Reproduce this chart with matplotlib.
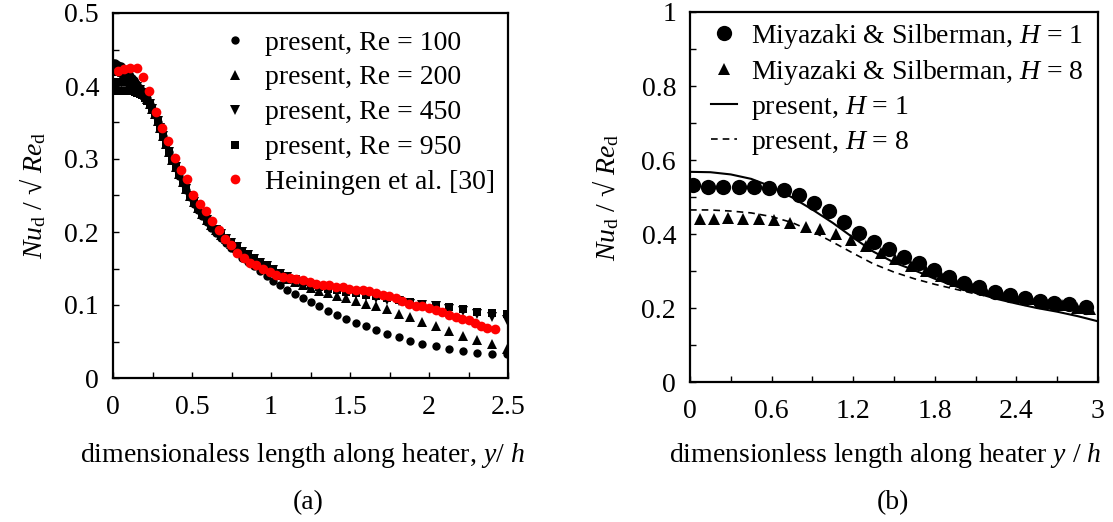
import numpy as np
import matplotlib
matplotlib.use("Agg")
import matplotlib.pyplot as plt
from matplotlib.ticker import MultipleLocator, FuncFormatter

plt.rcParams['font.family'] = ['Liberation Serif', 'DejaVu Serif']
plt.rcParams['mathtext.fontset'] = 'custom'
plt.rcParams['mathtext.rm'] = 'Liberation Serif'
plt.rcParams['mathtext.it'] = 'Liberation Serif:italic'
plt.rcParams['font.size'] = 20

# (a) present simulations, shared streamwise grid
x_present = [0.0, 0.01, 0.02, 0.03, 0.04, 0.05, 0.06, 0.07, 0.08, 0.09,
             0.10, 0.11, 0.12, 0.13, 0.14, 0.155, 0.17, 0.185, 0.20, 0.216,
             0.232, 0.248, 0.265, 0.282, 0.30, 0.318, 0.337, 0.356, 0.376, 0.397,
             0.418, 0.44, 0.463, 0.487, 0.512, 0.538, 0.565, 0.593, 0.622, 0.652,
             0.683, 0.715, 0.748, 0.782, 0.818, 0.855, 0.893, 0.932, 0.973, 1.015,
             1.059, 1.103, 1.152, 1.203, 1.253, 1.306, 1.363, 1.418, 1.477, 1.538,
             1.601, 1.667, 1.736, 1.808, 1.882, 1.957, 2.042, 2.126, 2.214, 2.305,
             2.40, 2.493]

nu_re100 = [0.432, 0.431, 0.430, 0.429, 0.428, 0.427, 0.425, 0.423, 0.421, 0.419,
            0.417, 0.414, 0.411, 0.408, 0.405, 0.401, 0.397, 0.393, 0.389, 0.383,
            0.376, 0.369, 0.360, 0.351, 0.341, 0.331, 0.320, 0.309, 0.298, 0.287,
            0.277, 0.267, 0.257, 0.248, 0.239, 0.230, 0.222, 0.214, 0.206, 0.199,
            0.192, 0.185, 0.178, 0.171, 0.165, 0.159, 0.153, 0.147, 0.140, 0.133,
            0.127, 0.121, 0.115, 0.109, 0.104, 0.098, 0.092, 0.0865, 0.0815, 0.076,
            0.0706, 0.0656, 0.060, 0.056, 0.0505, 0.0464, 0.0433, 0.0392, 0.0364, 0.0342,
            0.0332, 0.0332]

nu_re200 = [0.422, 0.422, 0.422, 0.421, 0.421, 0.420, 0.419, 0.418, 0.417, 0.415,
            0.413, 0.411, 0.408, 0.406, 0.403, 0.399, 0.395, 0.391, 0.387, 0.382,
            0.376, 0.369, 0.361, 0.352, 0.342, 0.332, 0.321, 0.310, 0.299, 0.289,
            0.279, 0.269, 0.259, 0.250, 0.241, 0.233, 0.225, 0.217, 0.210, 0.203,
            0.196, 0.190, 0.184, 0.178, 0.172, 0.166, 0.161, 0.156, 0.151, 0.146,
            0.141, 0.136, 0.131, 0.127, 0.123, 0.119, 0.116, 0.113, 0.110, 0.106,
            0.102, 0.099, 0.094, 0.088, 0.083, 0.077, 0.071, 0.065, 0.058, 0.052,
            0.046, 0.040]

nu_re450 = [0.404, 0.404, 0.404, 0.404, 0.404, 0.404, 0.404, 0.404, 0.404, 0.403,
            0.403, 0.403, 0.402, 0.401, 0.400, 0.398, 0.395, 0.391, 0.387, 0.382,
            0.376, 0.369, 0.361, 0.352, 0.342, 0.332, 0.321, 0.310, 0.299, 0.289,
            0.279, 0.269, 0.259, 0.250, 0.241, 0.233, 0.225, 0.217, 0.210, 0.203,
            0.197, 0.191, 0.185, 0.179, 0.173, 0.168, 0.163, 0.158, 0.153, 0.148,
            0.143, 0.138, 0.134, 0.130, 0.127, 0.124, 0.121, 0.119, 0.117, 0.115,
            0.113, 0.110, 0.107, 0.105, 0.102, 0.100, 0.098, 0.095, 0.092, 0.088,
            0.083, 0.080]

nu_re950 = [0.393, 0.393, 0.393, 0.393, 0.393, 0.393, 0.393, 0.393, 0.393, 0.393,
            0.393, 0.393, 0.393, 0.393, 0.392, 0.391, 0.389, 0.387, 0.384, 0.380,
            0.375, 0.369, 0.361, 0.352, 0.342, 0.332, 0.321, 0.310, 0.299, 0.289,
            0.279, 0.269, 0.259, 0.250, 0.241, 0.233, 0.225, 0.217, 0.210, 0.203,
            0.197, 0.191, 0.185, 0.179, 0.174, 0.169, 0.164, 0.159, 0.154, 0.149,
            0.144, 0.139, 0.135, 0.131, 0.128, 0.125, 0.122, 0.120, 0.118, 0.116,
            0.114, 0.112, 0.109, 0.107, 0.104, 0.102, 0.100, 0.097, 0.094, 0.091,
            0.089, 0.088]

# (a) Heiningen et al. [30]
x_hein = [0.033, 0.070, 0.109, 0.153, 0.192, 0.229, 0.269, 0.310, 0.349, 0.393,
          0.432, 0.469, 0.509, 0.550, 0.590, 0.629, 0.670, 0.710, 0.749, 0.786,
          0.830, 0.869, 0.906, 0.950, 0.992, 1.034, 1.076, 1.118, 1.160, 1.202,
          1.244, 1.286, 1.328, 1.370, 1.412, 1.454, 1.496, 1.538, 1.580, 1.622,
          1.664, 1.706, 1.748, 1.790, 1.832, 1.874, 1.916, 1.958, 2.000, 2.042,
          2.084, 2.126, 2.168, 2.210, 2.252, 2.294, 2.330, 2.370, 2.420]
nu_hein = [0.420, 0.4235, 0.4245, 0.4245, 0.413, 0.393, 0.365, 0.343, 0.324, 0.301,
           0.2855, 0.272, 0.2505, 0.239, 0.2286, 0.215, 0.2026, 0.1908, 0.1817, 0.1717,
           0.1648, 0.158, 0.155, 0.149, 0.145, 0.141, 0.139, 0.137, 0.136, 0.134,
           0.131, 0.129, 0.128, 0.127, 0.125, 0.124, 0.122, 0.121, 0.1205, 0.119,
           0.116, 0.114, 0.112, 0.109, 0.105, 0.1015, 0.099, 0.098, 0.096, 0.0935,
           0.090, 0.0865, 0.083, 0.081, 0.079, 0.075, 0.0715, 0.069, 0.0675]

# (b) Miyazaki & Silberman measurements
x_ms1 = [0.02, 0.135, 0.242, 0.357, 0.469, 0.578, 0.69, 0.802, 0.911, 1.023,
         1.135, 1.245, 1.354, 1.464, 1.576, 1.687, 1.797, 1.906, 2.018, 2.128,
         2.24, 2.35, 2.46, 2.57, 2.68, 2.79, 2.91]
nu_ms1 = [0.532, 0.528, 0.528, 0.528, 0.528, 0.525, 0.519, 0.506, 0.484, 0.461,
          0.433, 0.404, 0.379, 0.359, 0.338, 0.321, 0.302, 0.284, 0.268, 0.257,
          0.244, 0.235, 0.228, 0.220, 0.214, 0.210, 0.202]
x_ms8 = [0.073, 0.174, 0.281, 0.39, 0.508, 0.617, 0.734, 0.852, 0.958, 1.076,
         1.185, 1.292, 1.406, 1.51, 1.622, 1.732, 1.844, 1.948, 2.063, 2.169,
         2.284, 2.396, 2.508, 2.617, 2.734, 2.846, 2.94]
nu_ms8 = [0.44, 0.44, 0.442, 0.44, 0.44, 0.437, 0.431, 0.419, 0.413, 0.399,
          0.384, 0.368, 0.348, 0.333, 0.313, 0.300, 0.286, 0.273, 0.259, 0.250,
          0.241, 0.229, 0.223, 0.214, 0.207, 0.200, 0.196]

# (b) present curves
x_h1 = [0.0, 0.15, 0.3, 0.45, 0.6, 0.75, 0.9, 1.05, 1.2, 1.35, 1.5,
        1.65, 1.8, 1.95, 2.1, 2.25, 2.4, 2.55, 2.7, 2.85, 3.0]
nu_h1 = [0.568, 0.567, 0.561, 0.549, 0.528, 0.499, 0.466, 0.430, 0.390, 0.352, 0.323,
         0.302, 0.279, 0.259, 0.241, 0.225, 0.212, 0.200, 0.190, 0.178, 0.164]
x_h8 = [0.0, 0.15, 0.3, 0.45, 0.6, 0.75, 0.9, 1.05, 1.2, 1.35, 1.5,
        1.65, 1.8, 1.95, 2.1, 2.25, 2.4, 2.55, 2.7, 2.85, 2.95]
nu_h8 = [0.465, 0.465, 0.462, 0.457, 0.447, 0.431, 0.407, 0.378, 0.348, 0.319, 0.297,
         0.279, 0.264, 0.251, 0.238, 0.227, 0.217, 0.209, 0.201, 0.193, 0.188]

ylabel = r'$Nu_{\mathrm{d}}$ / √ $Re_{\mathrm{d}}$'
fmt = FuncFormatter(lambda v, p: f'{v:g}')

fig = plt.figure(figsize=(11.13, 5.22), dpi=100)
W, H = 1113.0, 522.0
ax1 = fig.add_axes([113 / W, (H - 378) / H, 395 / W, 365 / H])
ax2 = fig.add_axes([690 / W, (H - 382) / H, 408 / W, 370 / H])

# panel (a)
ax1.plot(x_present, nu_re100, 'o', color='black', ms=6, mew=0, label='present, Re = 100')
ax1.plot(x_present, nu_re200, '^', color='black', ms=6.5, mew=0, label='present, Re = 200')
ax1.plot(x_present, nu_re450, 'v', color='black', ms=6.5, mew=0, label='present, Re = 450')
ax1.plot(x_present, nu_re950, 's', color='black', ms=5.5, mew=0, label='present, Re = 950')
ax1.plot(x_hein, nu_hein, 'o', color='red', ms=7, mew=0, label='Heiningen et al. [30]')
ax1.set_xlim(0, 2.5)
ax1.set_ylim(0, 0.5)
ax1.xaxis.set_major_locator(MultipleLocator(0.5))
ax1.xaxis.set_minor_locator(MultipleLocator(0.25))
ax1.yaxis.set_major_locator(MultipleLocator(0.1))
ax1.yaxis.set_minor_locator(MultipleLocator(0.05))
ax1.legend(loc='upper left', bbox_to_anchor=(0.273, 0.953), frameon=False,
           borderpad=0, borderaxespad=0, handlelength=1.0, handletextpad=0.58,
           labelspacing=0.34)

# panel (b)
ax2.plot(x_ms1, nu_ms1, 'o', color='black', ms=11, mew=0, label=r'Miyazaki & Silberman, $H$ = 1')
ax2.plot(x_ms8, nu_ms8, '^', color='black', ms=9, mew=0, label=r'Miyazaki & Silberman, $H$ = 8')
ax2.plot(x_h1, nu_h1, '-', color='black', lw=1.5, label=r'present, $H$ = 1')
ax2.plot(x_h8, nu_h8, '--', color='black', lw=1.2, dashes=(4, 3), label=r'present, $H$ = 8')
ax2.set_xlim(0, 3)
ax2.set_ylim(0, 1)
ax2.xaxis.set_major_locator(MultipleLocator(0.6))
ax2.xaxis.set_minor_locator(MultipleLocator(0.3))
ax2.yaxis.set_major_locator(MultipleLocator(0.2))
ax2.yaxis.set_minor_locator(MultipleLocator(0.1))
ax2.legend(loc='upper left', bbox_to_anchor=(0.0515, 0.973), frameon=False,
           borderpad=0, borderaxespad=0, handlelength=0.95, handletextpad=0.5,
           labelspacing=0.25)

for ax in (ax1, ax2):
    ax.xaxis.set_major_formatter(fmt)
    ax.yaxis.set_major_formatter(fmt)
    for s in ax.spines.values():
        s.set_linewidth(1.6)
    ax.tick_params(which='both', direction='in', length=4, width=1,
                   top=False, right=False, labelsize=20)
    ax.tick_params(axis='y', pad=10)
    ax.tick_params(axis='x', pad=12)

# axis titles and panel tags
fig.text(33 / W, 1 - 195 / H, ylabel, rotation=90, ha='center', va='center')
fig.text(606 / W, 1 - 197 / H, ylabel, rotation=90, ha='center', va='center')
fig.text(302 / W, 1 - 455 / H, r'dimensionaless length along heater, $y$/ $h$',
         ha='center', va='center')
fig.text(885 / W, 1 - 455 / H, r'dimensionless length along heater $y$ / $h$',
         ha='center', va='center')
fig.text(308 / W, 1 - 503 / H, '(a)', ha='center', va='center')
fig.text(893 / W, 1 - 503 / H, '(b)', ha='center', va='center')

fig.savefig('out.png', dpi=100)
